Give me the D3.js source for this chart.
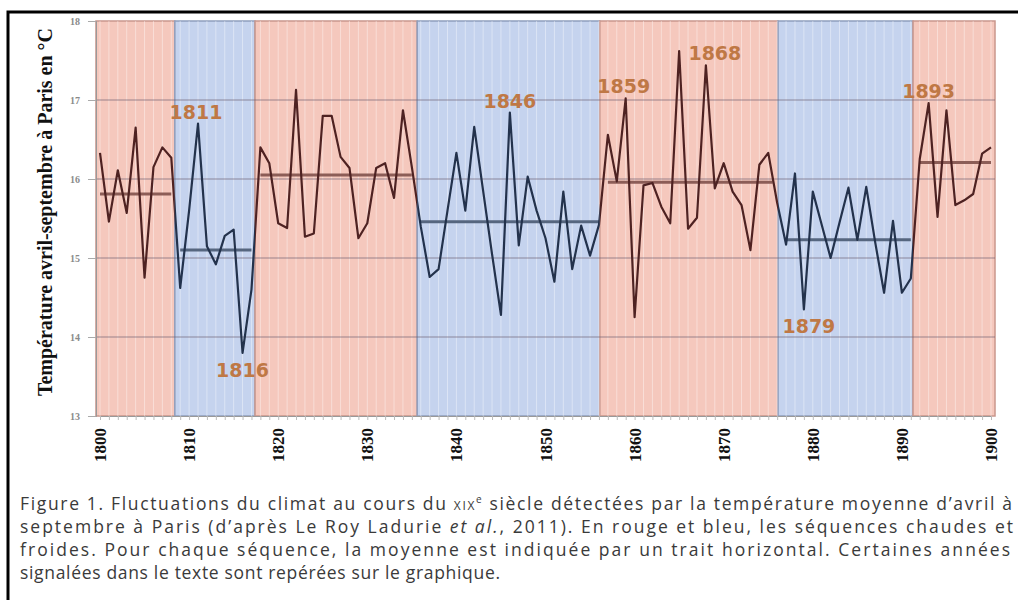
<!DOCTYPE html>
<html>
<head>
<meta charset="utf-8">
<script src="https://cdn.jsdelivr.net/npm/d3@7"></script>
<style>
  body { margin: 0; background: #fff; }
  svg { display: block; }
  .ylab { font-family: "Liberation Serif", "DejaVu Serif", serif; font-weight: bold; }
  .caption { font-family: "Open Sans", "Noto Sans", sans-serif; fill: #3a3a3a; }
</style>
</head>
<body>
<script>
const width = 1018;
const height = 600;

// yearly april-september temperature in Paris, 1800..1900
const firstYear = 1800;
const temps = [
  16.33, 15.46, 16.11, 15.57, 16.65, 14.75, 16.15, 16.40, 16.27,          // 1800-1808
  14.62, 15.60, 16.70, 15.15, 14.92, 15.28, 15.36, 13.80, 14.60,          // 1809-1817
  16.40, 16.20, 15.44, 15.38, 17.13, 15.27, 15.31, 16.80, 16.80,          // 1818-1826
  16.28, 16.14, 15.25, 15.44, 16.14, 16.20, 15.76, 16.87, 16.15,          // 1827-1835
  15.40, 14.76, 14.86, 15.60, 16.33, 15.60, 16.66, 15.85, 15.05, 14.28,   // 1836-1845
  16.84, 15.16, 16.03, 15.60, 15.25, 14.70, 15.84, 14.86, 15.41, 15.03, 15.42, // 1846-1856
  16.56, 15.97, 17.02, 14.25, 15.92, 15.95, 15.65, 15.44, 17.62, 15.37,   // 1857-1866
  15.51, 17.44, 15.88, 16.20, 15.84, 15.67, 15.10, 16.18, 16.33, 15.70,   // 1867-1876
  15.17, 16.07, 14.35, 15.84, 15.42, 15.00, 15.45, 15.89, 15.23, 15.90,   // 1877-1886
  15.20, 14.56, 15.47, 14.56, 14.74,                                      // 1887-1891
  16.25, 16.96, 15.52, 16.87, 15.67, 15.73, 15.81, 16.32, 16.40           // 1892-1900
];

// warm / cold sequences and their means
const segStart = [1800, 1809, 1818, 1836, 1857, 1877, 1892];
const segEnd   = [1808, 1817, 1835, 1856, 1875.5, 1891, 1900];
const segKind  = ['warm', 'cold', 'warm', 'cold', 'warm', 'cold', 'warm'];
const segMean  = [15.81, 15.10, 16.05, 15.46, 15.96, 15.23, 16.21];
// coloured background bands (edges in years)
const bandEdges = [1799.55, 1808.4, 1817.4, 1835.6, 1856.1, 1876.1, 1891.25, 1900.45];

const yTicks = [13, 14, 15, 16, 17, 18];
const xTickLabels = [1800, 1810, 1820, 1830, 1840, 1850, 1860, 1870, 1880, 1890, 1900];

// years quoted in the text
const markYears = [1811, 1816, 1846, 1859, 1868, 1879, 1893];
const markBelow = [false, true, false, false, false, true, false];

const captionLines = [
  'Figure 1. Fluctuations du climat au cours du |xix|e| siècle détectées par la température moyenne d’avril à',
  'septembre à Paris (d’après Le Roy Ladurie |et al.|, 2011). En rouge et bleu, les séquences chaudes et',
  'froides. Pour chaque séquence, la moyenne est indiquée par un trait horizontal. Certaines années',
  'signalées dans le texte sont repérées sur le graphique.'
];

const colors = {
  warm: { band: '#f5c8bd', edge: '#c9978d', line: '#4e2222', mean: '#8c5d57' },
  cold: { band: '#c5d3ee', edge: '#8f9fbd', line: '#23324c', mean: '#56667f' }
};

const x = d3.scaleLinear().domain([1800, 1900]).range([100, 991]);
const y = d3.scaleLinear().domain([13, 18]).range([416, 21]);

const svg = d3.select('body').append('svg')
    .attr('width', width)
    .attr('height', height);

// outer frame
svg.append('path')
    .attr('d', 'M8,605 L8,12 L1025,12')
    .attr('fill', 'none')
    .attr('stroke', '#000')
    .attr('stroke-width', 3);

// bands
const bands = d3.range(bandEdges.length - 1).map(i => ({
  x0: bandEdges[i], x1: bandEdges[i + 1], kind: segKind[i]
}));

svg.selectAll('rect.band')
  .data(bands)
  .enter()
  .append('rect')
    .attr('class', 'band')
    .attr('x', d => x(d.x0))
    .attr('y', y(18))
    .attr('width', d => x(d.x1) - x(d.x0))
    .attr('height', y(13) - y(18))
    .attr('fill', d => colors[d.kind].band)
    .attr('stroke', d => colors[d.kind].edge)
    .attr('stroke-width', 1.5);

// one vertical line per year
const years = temps.map((t, i) => firstYear + i);
svg.append('g')
  .selectAll('line')
  .data(years)
  .enter()
  .append('line')
    .attr('x1', d => x(d)).attr('x2', d => x(d))
    .attr('y1', y(18)).attr('y2', y(13))
    .attr('stroke', '#ffffff')
    .attr('stroke-opacity', 0.4)
    .attr('stroke-width', 1);

// horizontal grid
svg.append('g')
  .selectAll('line')
  .data(yTicks.filter(t => t > 13 && t < 18))
  .enter()
  .append('line')
    .attr('x1', x(bandEdges[0])).attr('x2', x(bandEdges[bandEdges.length - 1]))
    .attr('y1', d => y(d)).attr('y2', d => y(d))
    .attr('stroke', '#6e6070')
    .attr('stroke-opacity', 0.45)
    .attr('stroke-width', 1.5);

// y axis
const yAxis = svg.append('g')
    .attr('transform', `translate(${x(bandEdges[0])},0)`)
    .call(d3.axisLeft(y).tickValues(yTicks).tickSize(8).tickPadding(8).tickFormat(d3.format('d')));
yAxis.select('.domain').attr('stroke', '#999').attr('stroke-width', 1);
yAxis.selectAll('.tick line').attr('stroke', '#aaa');
yAxis.selectAll('.tick text')
    .attr('class', 'ylab')
    .attr('fill', '#8a8a8a')
    .style('font-size', '10px');

// x axis: small yearly ticks, decade labels rotated
const xAxis = svg.append('g')
    .attr('transform', `translate(0,${y(13)})`)
    .call(d3.axisBottom(x).tickValues(years).tickSize(4).tickFormat(''));
xAxis.select('.domain').attr('stroke', '#999');
xAxis.selectAll('.tick line').attr('stroke', '#bbb');

svg.append('g')
  .selectAll('text')
  .data(xTickLabels)
  .enter()
  .append('text')
    .attr('class', 'ylab')
    .attr('transform', d => `translate(${x(d) + 6},428) rotate(-90)`)
    .attr('text-anchor', 'end')
    .attr('fill', '#111')
    .style('font-size', '17px')
    .text(d => d);

// y title
svg.append('text')
    .attr('class', 'ylab')
    .attr('transform', 'translate(52,212) rotate(-90)')
    .attr('text-anchor', 'middle')
    .attr('fill', '#111')
    .style('font-size', '20px')
    .text('Température avril-septembre à Paris en °C');

// sequence means
svg.append('g')
  .selectAll('line')
  .data(segMean)
  .enter()
  .append('line')
    .attr('x1', (d, i) => x(segStart[i]))
    .attr('x2', (d, i) => x(segEnd[i]))
    .attr('y1', d => y(d)).attr('y2', d => y(d))
    .attr('stroke', (d, i) => colors[segKind[i]].mean)
    .attr('stroke-width', 3);

// temperature line, coloured by band through clip paths
const line = d3.line()
    .x((d, i) => x(firstYear + i))
    .y(d => y(d));

const defs = svg.append('defs');
bands.forEach((b, i) => {
  defs.append('clipPath')
      .attr('id', 'clip' + i)
    .append('rect')
      .attr('x', x(b.x0))
      .attr('y', 0)
      .attr('width', x(b.x1) - x(b.x0))
      .attr('height', height);
  svg.append('path')
      .datum(temps)
      .attr('clip-path', `url(#clip${i})`)
      .attr('d', line)
      .attr('fill', 'none')
      .attr('stroke', colors[b.kind].line)
      .attr('stroke-width', 2.2)
      .attr('stroke-linejoin', 'round');
});

// quoted years
const labelShift = { 1868: 9, 1879: 5, 1811: -2, 1859: -2 };
svg.append('g')
  .selectAll('text')
  .data(markYears)
  .enter()
  .append('text')
    .attr('x', d => x(d) + (labelShift[d] || 0))
    .attr('y', (d, i) => y(temps[d - firstYear]) + (markBelow[i] ? 24 : -5))
    .attr('text-anchor', 'middle')
    .attr('fill', '#bf7845')
    .style('font-family', '"DejaVu Sans", sans-serif')
    .style('font-weight', 'bold')
    .style('font-size', '19px')
    .text(d => d);

// caption, justified like the printed figure
const captionWidths = [992, 993, 990, 480];
captionLines.forEach((ln, i) => {
  const t = svg.append('text')
      .attr('class', 'caption')
      .attr('x', 20)
      .attr('y', 510 + i * 23)
      .style('font-size', '17.5px')
      .attr('textLength', captionWidths[i])
      .attr('lengthAdjust', 'spacing');
  ln.split('|').forEach(part => {
    const s = t.append('tspan').text(part);
    if (part === 'xix') s.style('font-size', '12px').text('XIX');
    if (part === 'e' && i === 0) s.attr('baseline-shift', 'super').style('font-size', '10px');
    if (part === 'et al.') s.style('font-style', 'italic');
  });
});
</script>
</body>
</html>
